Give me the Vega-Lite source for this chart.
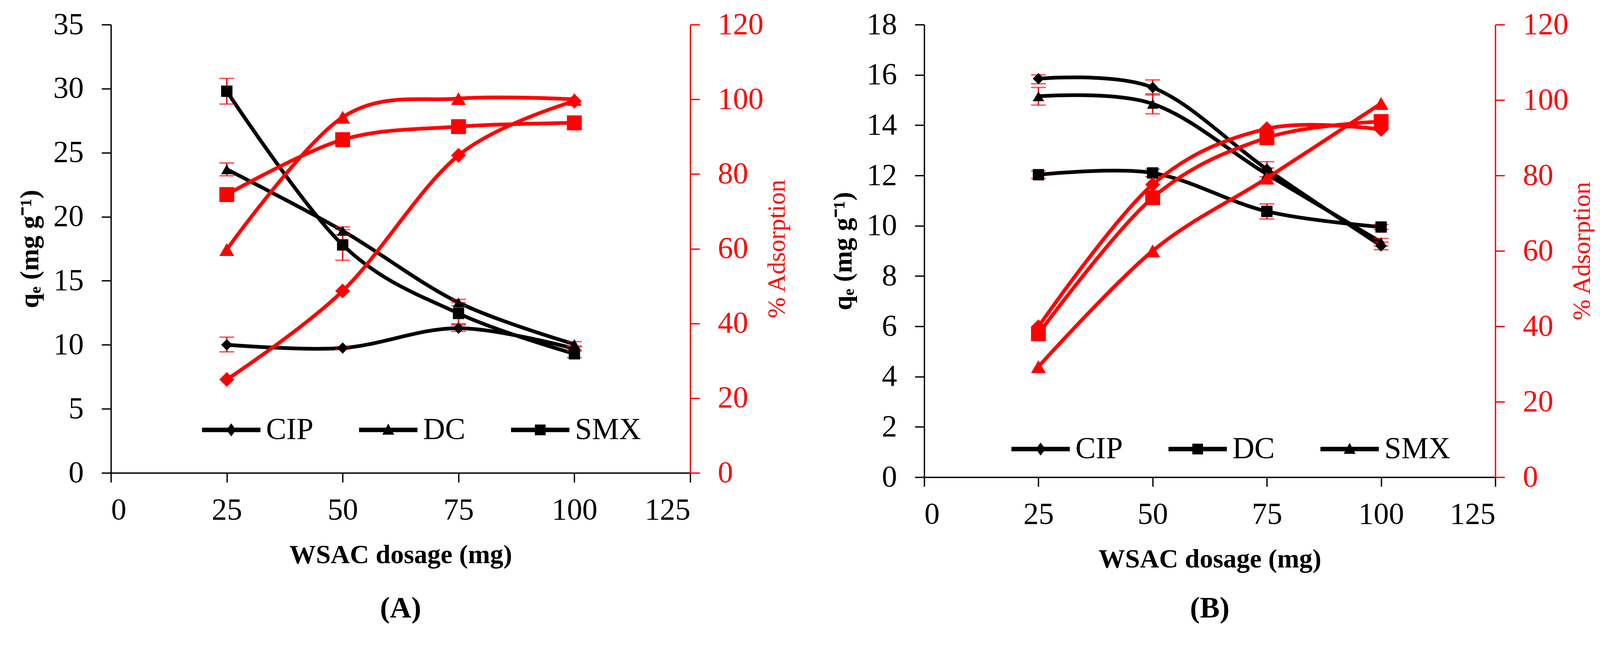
{
  "$schema": "https://vega.github.io/schema/vega-lite/v6.json",
  "background": "white",
  "padding": {"left": 43, "top": 24, "right": 0, "bottom": 0},
  "spacing": 104,
  "config": {
    "font": "Liberation Serif",
    "view": {"stroke": null},
    "axis": {
      "grid": false,
      "labelFont": "Liberation Serif",
      "labelFontSize": 78,
      "labelColor": "black",
      "labelPadding": 46,
      "tickSize": 24,
      "tickWidth": 3.4,
      "tickColor": "black",
      "domainWidth": 3.4,
      "domainColor": "black",
      "titleFont": "Liberation Serif",
      "titleColor": "black",
      "titleFontSize": 68,
      "titleFontWeight": "bold"
    },
    "legend": {
      "labelFont": "Liberation Serif",
      "labelFontSize": 78,
      "labelColor": "black",
      "labelLimit": 400
    },
    "title": {"font": "Liberation Serif", "color": "black"}
  },
  "datasets": {
    "wsac": [
      {"panel": "A", "drug": "CIP", "dose": 25, "qe": 10.0, "qe_lo": 9.45, "qe_hi": 10.6, "ads": 25.0},
      {"panel": "A", "drug": "CIP", "dose": 50, "qe": 9.75, "qe_lo": 9.65, "qe_hi": 9.85, "ads": 48.7},
      {"panel": "A", "drug": "CIP", "dose": 75, "qe": 11.3, "qe_lo": 11.05, "qe_hi": 11.55, "ads": 85.0},
      {"panel": "A", "drug": "CIP", "dose": 100, "qe": 9.7, "qe_lo": 9.5, "qe_hi": 9.9, "ads": 99.5},
      {"panel": "A", "drug": "DC", "dose": 25, "qe": 23.7, "qe_lo": 23.2, "qe_hi": 24.2, "ads": 59.8},
      {"panel": "A", "drug": "DC", "dose": 50, "qe": 18.9, "qe_lo": 18.6, "qe_hi": 19.2, "ads": 95.2},
      {"panel": "A", "drug": "DC", "dose": 75, "qe": 13.3, "qe_lo": 13.05, "qe_hi": 13.55, "ads": 100.2},
      {"panel": "A", "drug": "DC", "dose": 100, "qe": 10.05, "qe_lo": 9.85, "qe_hi": 10.25, "ads": 100.0},
      {"panel": "A", "drug": "SMX", "dose": 25, "qe": 29.8, "qe_lo": 28.8, "qe_hi": 30.8, "ads": 74.5},
      {"panel": "A", "drug": "SMX", "dose": 50, "qe": 17.8, "qe_lo": 16.6, "qe_hi": 19.0, "ads": 89.2},
      {"panel": "A", "drug": "SMX", "dose": 75, "qe": 12.45, "qe_lo": 11.65, "qe_hi": 13.3, "ads": 92.7},
      {"panel": "A", "drug": "SMX", "dose": 100, "qe": 9.3, "qe_lo": 9.0, "qe_hi": 9.6, "ads": 93.7},
      {"panel": "B", "drug": "CIP", "dose": 25, "qe": 15.85, "qe_lo": 15.65, "qe_hi": 16.0, "ads": 39.9},
      {"panel": "B", "drug": "CIP", "dose": 50, "qe": 15.5, "qe_lo": 15.2, "qe_hi": 15.8, "ads": 77.6},
      {"panel": "B", "drug": "CIP", "dose": 75, "qe": 12.25, "qe_lo": 11.95, "qe_hi": 12.55, "ads": 92.4},
      {"panel": "B", "drug": "CIP", "dose": 100, "qe": 9.2, "qe_lo": 9.05, "qe_hi": 9.35, "ads": 92.2},
      {"panel": "B", "drug": "DC", "dose": 25, "qe": 12.03, "qe_lo": 11.88, "qe_hi": 12.18, "ads": 38.0},
      {"panel": "B", "drug": "DC", "dose": 50, "qe": 12.1, "qe_lo": 11.95, "qe_hi": 12.25, "ads": 74.1},
      {"panel": "B", "drug": "DC", "dose": 75, "qe": 10.57, "qe_lo": 10.27, "qe_hi": 10.87, "ads": 90.0},
      {"panel": "B", "drug": "DC", "dose": 100, "qe": 9.95, "qe_lo": 9.85, "qe_hi": 10.05, "ads": 94.3},
      {"panel": "B", "drug": "SMX", "dose": 25, "qe": 15.15, "qe_lo": 14.8, "qe_hi": 15.5, "ads": 29.3},
      {"panel": "B", "drug": "SMX", "dose": 50, "qe": 14.85, "qe_lo": 14.45, "qe_hi": 15.25, "ads": 60.0},
      {"panel": "B", "drug": "SMX", "dose": 75, "qe": 12.05, "qe_lo": 11.8, "qe_hi": 12.3, "ads": 79.3},
      {"panel": "B", "drug": "SMX", "dose": 100, "qe": 9.35, "qe_lo": 9.2, "qe_hi": 9.5, "ads": 99.1}
    ]
  },
  "hconcat": [
    {
      "width": 1483,
      "height": 1147,
      "data": {"name": "wsac"},
      "transform": [{"filter": "datum.panel == 'A'"}],
      "title": {"text": "(A)", "orient": "bottom", "anchor": "middle", "fontSize": 76, "fontWeight": "bold", "offset": 66},
      "encoding": {
        "x": {
          "field": "dose",
          "type": "quantitative",
          "scale": {"domain": [0, 125]},
          "axis": {"values": [0, 25, 50, 75, 100, 125], "title": "WSAC dosage (mg)", "labelPadding": 32, "titlePadding": 42}
        }
      },
      "layer": [
        {
          "encoding": {
            "y": {
              "field": "qe",
              "type": "quantitative",
              "title": "qₑ (mg g⁻¹)",
              "scale": {"domain": [0, 35]},
              "axis": {"values": [0, 5, 10, 15, 20, 25, 30, 35], "titlePadding": 25}
            }
          },
          "layer": [
            {
              "mark": {"type": "line", "interpolate": "cardinal", "color": "black", "strokeWidth": 9.5},
              "encoding": {"detail": {"field": "drug"}}
            },
            {
              "mark": {"type": "errorbar", "ticks": true, "color": "red", "thickness": 3.4, "size": 38},
              "encoding": {
                "y": {"field": "qe_lo", "type": "quantitative", "title": "qₑ (mg g⁻¹)", "scale": {"domain": [0, 35]}},
                "y2": {"field": "qe_hi"}
              }
            },
            {
              "mark": {"type": "point", "filled": true, "opacity": 1, "color": "black", "size": 840},
              "encoding": {
                "shape": {
                  "field": "drug",
                  "type": "nominal",
                  "scale": {"domain": ["CIP", "DC", "SMX"], "range": ["diamond", "triangle-up", "square"]},
                  "legend": null
                }
              }
            }
          ]
        },
        {
          "encoding": {
            "y": {
              "field": "ads",
              "type": "quantitative",
              "title": "% Adsorption",
              "scale": {"domain": [0, 120]},
              "axis": {
                "orient": "right",
                "values": [0, 20, 40, 60, 80, 100, 120],
                "labelColor": "red",
                "labelPadding": 46,
                "tickColor": "red",
                "domainColor": "red",
                "titleColor": "red",
                "titleFontWeight": "normal",
                "titleFontSize": 64,
                "titleAngle": 270,
                "titleBaseline": "top",
                "titlePadding": 3
              }
            }
          },
          "layer": [
            {
              "mark": {"type": "line", "interpolate": "cardinal", "color": "red", "strokeWidth": 9.5},
              "encoding": {"detail": {"field": "drug"}}
            },
            {
              "mark": {"type": "point", "filled": true, "opacity": 1, "color": "red", "size": 1450},
              "encoding": {
                "shape": {
                  "field": "drug",
                  "type": "nominal",
                  "scale": {"domain": ["CIP", "DC", "SMX"], "range": ["diamond", "triangle-up", "square"]},
                  "legend": null
                }
              }
            }
          ]
        },
        {
          "mark": {"type": "point", "filled": true, "opacity": 0, "color": "black"},
          "encoding": {
            "shape": {
              "field": "drug",
              "type": "nominal",
              "scale": {
                "domain": ["CIP", "DC", "SMX"],
                "range": [
                  "M-4.9,-0.38H4.9V0.38H-4.9Z M0,-1.1L0.8,0L0,1.1L-0.8,0Z",
                  "M-4.9,-0.38H4.9V0.38H-4.9Z M0,-1.05L1,0.8H-1Z",
                  "M-4.9,-0.38H4.9V0.38H-4.9Z M-0.9,-0.9H0.9V0.9H-0.9Z"
                ]
              },
              "legend": {
                "orient": "none",
                "legendX": 269,
                "legendY": 998,
                "direction": "horizontal",
                "title": null,
                "symbolSize": 930,
                "symbolFillColor": "black",
                "symbolStrokeColor": "black",
                "symbolStrokeWidth": 0,
                "symbolOpacity": 1,
                "labelOffset": 50,
                "columnPadding": 116
              }
            }
          }
        }
      ],
      "resolve": {"scale": {"y": "independent", "shape": "independent"}}
    },
    {
      "width": 1462,
      "height": 1158,
      "data": {"name": "wsac"},
      "transform": [{"filter": "datum.panel == 'B'"}],
      "title": {"text": "(B)", "orient": "bottom", "anchor": "middle", "fontSize": 76, "fontWeight": "bold", "offset": 55},
      "encoding": {
        "x": {
          "field": "dose",
          "type": "quantitative",
          "scale": {"domain": [0, 125]},
          "axis": {"values": [0, 25, 50, 75, 100, 125], "title": "WSAC dosage (mg)", "labelPadding": 32, "titlePadding": 42}
        }
      },
      "layer": [
        {
          "encoding": {
            "y": {
              "field": "qe",
              "type": "quantitative",
              "title": "qₑ (mg g⁻¹)",
              "scale": {"domain": [0, 18]},
              "axis": {"values": [0, 2, 4, 6, 8, 10, 12, 14, 16, 18], "titlePadding": 25}
            }
          },
          "layer": [
            {
              "mark": {"type": "line", "interpolate": "cardinal", "color": "black", "strokeWidth": 9.5},
              "encoding": {"detail": {"field": "drug"}}
            },
            {
              "mark": {"type": "errorbar", "ticks": true, "color": "red", "thickness": 3.4, "size": 38},
              "encoding": {
                "y": {"field": "qe_lo", "type": "quantitative", "title": "qₑ (mg g⁻¹)", "scale": {"domain": [0, 18]}},
                "y2": {"field": "qe_hi"}
              }
            },
            {
              "mark": {"type": "point", "filled": true, "opacity": 1, "color": "black", "size": 840},
              "encoding": {
                "shape": {
                  "field": "drug",
                  "type": "nominal",
                  "scale": {"domain": ["CIP", "DC", "SMX"], "range": ["diamond", "square", "triangle-up"]},
                  "legend": null
                }
              }
            }
          ]
        },
        {
          "encoding": {
            "y": {
              "field": "ads",
              "type": "quantitative",
              "title": "% Adsorption",
              "scale": {"domain": [0, 120]},
              "axis": {
                "orient": "right",
                "values": [0, 20, 40, 60, 80, 100, 120],
                "labelColor": "red",
                "labelPadding": 46,
                "tickColor": "red",
                "domainColor": "red",
                "titleColor": "red",
                "titleFontWeight": "normal",
                "titleFontSize": 64,
                "titleAngle": 270,
                "titleBaseline": "top",
                "titlePadding": 3
              }
            }
          },
          "layer": [
            {
              "mark": {"type": "line", "interpolate": "cardinal", "color": "red", "strokeWidth": 9.5},
              "encoding": {"detail": {"field": "drug"}}
            },
            {
              "mark": {"type": "point", "filled": true, "opacity": 1, "color": "red", "size": 1450},
              "encoding": {
                "shape": {
                  "field": "drug",
                  "type": "nominal",
                  "scale": {"domain": ["CIP", "DC", "SMX"], "range": ["diamond", "square", "triangle-up"]},
                  "legend": null
                }
              }
            }
          ]
        },
        {
          "mark": {"type": "point", "filled": true, "opacity": 0, "color": "black"},
          "encoding": {
            "shape": {
              "field": "drug",
              "type": "nominal",
              "scale": {
                "domain": ["CIP", "DC", "SMX"],
                "range": [
                  "M-4.9,-0.38H4.9V0.38H-4.9Z M0,-1.1L0.8,0L0,1.1L-0.8,0Z",
                  "M-4.9,-0.38H4.9V0.38H-4.9Z M-0.9,-0.9H0.9V0.9H-0.9Z",
                  "M-4.9,-0.38H4.9V0.38H-4.9Z M0,-1.05L1,0.8H-1Z"
                ]
              },
              "legend": {
                "orient": "none",
                "legendX": 259,
                "legendY": 1047,
                "direction": "horizontal",
                "title": null,
                "symbolSize": 930,
                "symbolFillColor": "black",
                "symbolStrokeColor": "black",
                "symbolStrokeWidth": 0,
                "symbolOpacity": 1,
                "labelOffset": 50,
                "columnPadding": 116
              }
            }
          }
        }
      ],
      "resolve": {"scale": {"y": "independent", "shape": "independent"}}
    }
  ]
}
